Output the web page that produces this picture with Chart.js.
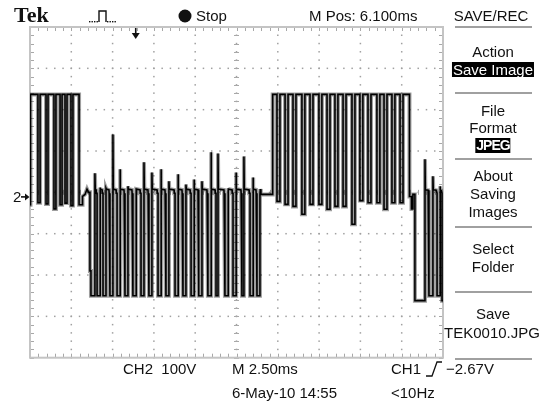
<!DOCTYPE html>
<html><head><meta charset="utf-8">
<script src="https://cdn.jsdelivr.net/npm/chart.js@4"></script>
<style>
html,body{margin:0;padding:0;background:#fff;width:547px;height:403px;overflow:hidden}
#wrap{position:relative;width:547px;height:403px}
#c{position:absolute;left:0;top:0}
.t{position:absolute;font-family:"Liberation Sans",Arial,sans-serif;font-size:15px;color:#111;white-space:pre;line-height:17px}
.c{transform:translateX(-50%)}
.inv{background:#000;color:#fff;line-height:15px;padding:0 1px}
</style></head>
<body><div id="wrap"><canvas id="c" width="547" height="403"></canvas>
<div class="t" style="left:14px;top:3px;font-family:'Liberation Serif',serif;font-weight:bold;font-size:22px;line-height:24px">Tek</div>
<div class="t" style="left:196px;top:7px">Stop</div>
<div class="t" style="left:309px;top:7px">M Pos: 6.100ms</div>
<div class="t c" style="left:491px;top:7px">SAVE/REC</div>
<div class="t" style="left:13px;top:188px">2</div>
<div class="t c" style="left:493px;top:43px">Action</div>
<div class="t c inv" style="left:493px;top:62px">Save Image</div>
<div class="t c" style="left:493px;top:102px">File</div>
<div class="t c" style="left:493px;top:119px">Format</div>
<div class="t c inv" style="left:493px;top:138px;font-weight:bold;font-size:14px;letter-spacing:-1px">JPEG</div>
<div class="t c" style="left:493px;top:167px">About</div>
<div class="t c" style="left:493px;top:185px">Saving</div>
<div class="t c" style="left:493px;top:203px">Images</div>
<div class="t c" style="left:493px;top:240px">Select</div>
<div class="t c" style="left:493px;top:258px">Folder</div>
<div class="t c" style="left:493px;top:305px">Save</div>
<div class="t c" style="left:492px;top:324px">TEK0010.JPG</div>
<div class="t" style="left:123px;top:360px">CH2  100V</div>
<div class="t" style="left:232px;top:360px">M 2.50ms</div>
<div class="t" style="left:391px;top:360px">CH1</div>
<div class="t" style="left:446px;top:360px">−2.67V</div>
<div class="t" style="left:232px;top:384px">6-May-10 14:55</div>
<div class="t" style="left:391px;top:384px">&lt;10Hz</div>
</div>
<script>
// ---- graticule divisions (M 2.50ms/div, CH2 100V/div) ----
const timeDivs = [0, 2.5, 5, 7.5, 10, 12.5, 15, 17.5, 20, 22.5, 25];   // ms
const voltDivs = [-400, -300, -200, -100, 0, 100, 200, 300, 400];     // V
const HIGH = 237, LOW = -250;

// Burst A: signal held high with short dips
const burstA_dipStart = [0.48, 0.97, 1.45, 1.82, 2.12, 2.48];
const burstA_dipEnd   = [0.61, 1.09, 1.57, 1.94, 2.24, 2.60];
const burstA_dipLow   = [-25, -28, -40, -30, -26, -32];
const burstA_fall = 2.97;

// gap between A and B
const gapAB_t = [2.97, 3.16, 3.18, 3.33, 3.45, 3.54, 3.63];
const gapAB_v = [-30, -30, -10, -5, 8, 0, 0];

// Burst B: pulses down to LOW, overshoot spike on each rising edge
const burstB_start = [3.63,4.06,4.42,4.84,5.27,5.75,6.23,6.72,7.20,7.75,8.23,8.78,9.26,9.75,10.23,10.77,11.26,11.80,12.29,12.83,13.32,13.74];
const burstB_end   = [3.93,4.24,4.60,5.02,5.45,5.93,6.42,6.90,7.38,7.93,8.41,8.96,9.44,9.93,10.41,10.96,11.38,11.99,12.47,12.95,13.50,13.92];
const burstB_spike = [46,12,10,140,56,15,7,73,48,56,27,44,19,31,27,97,94,10,48,87,36,-5];
const burstB_firstStep = -190;

// Burst C: high with dips
const burstC_rise = 14.69;
const burstC_dipStart = [14.95,15.44,15.92,16.46,16.95,17.49,17.98,18.46,18.95,19.49,19.97,20.46,21.00,21.43,21.91,22.40];
const burstC_dipEnd   = [15.13,15.62,16.10,16.64,17.13,17.67,18.16,18.64,19.13,19.67,20.15,20.64,21.18,21.61,22.09,22.58];
const burstC_dipLow   = [-22,-29,-34,-53,-29,-29,-41,-34,-34,-77,-20,-25,-25,-41,-25,-25];
const burstC_fall = 22.97;

// gap C -> D
const gapCD_t = [22.97, 23.09, 23.09, 23.18, 23.18];
const gapCD_v = [-10, -10, -40, -40, -5];

// Burst D
const burstD_start = [23.30, 24.15, 24.64, 24.94];
const burstD_end   = [23.91, 24.39, 24.82, 25.00];
const burstD_low   = [-262, -250, -250, -262];
const burstD_spike = [80, 39, 15, null];

// ---- build the trace ----
const pts = [];
const P = (x, y) => pts.push({x, y});
const last = () => pts[pts.length - 1].y;
P(0, -30); P(0.03, -30); P(0.03, HIGH);
burstA_dipStart.forEach((s, i) => { P(s, HIGH); P(s, burstA_dipLow[i]); P(burstA_dipEnd[i], burstA_dipLow[i]); P(burstA_dipEnd[i], HIGH); });
P(burstA_fall, HIGH);
gapAB_t.forEach((t, i) => P(t, gapAB_v[i]));
burstB_start.forEach((s, i) => {
  const e = burstB_end[i];
  if (i > 0) { P(s - 0.06, 6); P(s - 0.05, -2); P(s, -2); }
  if (i === 0) { P(s, burstB_firstStep); P(s + 0.06, burstB_firstStep); P(s + 0.06, LOW); }
  else P(s, LOW);
  P(e, LOW); P(e, burstB_spike[i]); P(e + 0.02, 8);
});
P(burstB_end[burstB_end.length - 1] + 0.05, -5);
P(burstC_rise, -5); P(burstC_rise, HIGH);
burstC_dipStart.forEach((s, i) => { P(s, HIGH); P(s, burstC_dipLow[i]); P(burstC_dipEnd[i], burstC_dipLow[i]); P(burstC_dipEnd[i], HIGH); });
P(burstC_fall, HIGH);
gapCD_t.forEach((t, i) => P(t, gapCD_v[i]));
burstD_start.forEach((s, i) => {
  const e = burstD_end[i];
  if (i > 0) { P(s - 0.05, 5); P(s, -2); } else { P(s, last()); }
  P(s, burstD_low[i]); P(e, burstD_low[i]);
  if (burstD_spike[i] !== null) { P(e, burstD_spike[i]); P(e + 0.02, 6); }
});

// ---- graticule + screen decorations ----
const scope = {
  id: 'scope',
  beforeDatasetsDraw(chart) {
    const ctx = chart.ctx, x = chart.scales.x, y = chart.scales.y, a = chart.chartArea;
    const xMinor = [], yMinor = [];
    for (let i = 0; i < timeDivs.length - 1; i++) for (let k = 0; k < 5; k++) xMinor.push(timeDivs[i] + (timeDivs[i+1]-timeDivs[i]) * k / 5);
    xMinor.push(timeDivs[timeDivs.length-1]);
    for (let i = 0; i < voltDivs.length - 1; i++) for (let k = 0; k < 5; k++) yMinor.push(voltDivs[i] + (voltDivs[i+1]-voltDivs[i]) * k / 5);
    yMinor.push(voltDivs[voltDivs.length-1]);
    ctx.save();
    ctx.fillStyle = '#a0a0a0';
    timeDivs.slice(1, -1).forEach(t => { const px = x.getPixelForValue(t); yMinor.forEach(v => ctx.fillRect(px - 0.75, y.getPixelForValue(v) - 0.75, 1.5, 1.5)); });
    voltDivs.slice(1, -1).forEach(v => { const py = y.getPixelForValue(v); xMinor.forEach(t => ctx.fillRect(x.getPixelForValue(t) - 0.75, py - 0.75, 1.5, 1.5)); });
    ctx.strokeStyle = '#a8a8a8'; ctx.lineWidth = 1;
    const cx = x.getPixelForValue(12.5), cy = y.getPixelForValue(0);
    ctx.beginPath();
    yMinor.forEach(v => { const py = Math.round(y.getPixelForValue(v)) + 0.5; ctx.moveTo(cx - 2.5, py); ctx.lineTo(cx + 2.5, py); });
    xMinor.forEach(t => { const px = Math.round(x.getPixelForValue(t)) + 0.5; ctx.moveTo(px, cy - 2.5); ctx.lineTo(px, cy + 2.5); });
    yMinor.forEach(v => { const py = Math.round(y.getPixelForValue(v)) + 0.5; ctx.moveTo(a.left, py); ctx.lineTo(a.left + 4, py); ctx.moveTo(a.right, py); ctx.lineTo(a.right - 4, py); });
    xMinor.forEach(t => { const px = Math.round(x.getPixelForValue(t)) + 0.5; ctx.moveTo(px, a.top); ctx.lineTo(px, a.top + 4); ctx.moveTo(px, a.bottom); ctx.lineTo(px, a.bottom - 4); });
    ctx.stroke();
    ctx.strokeStyle = '#c4c4c4'; ctx.lineWidth = 2;
    ctx.strokeRect(a.left, a.top, a.right - a.left, a.bottom - a.top);
    ctx.restore();
  },
  afterDraw(chart) {
    const ctx = chart.ctx, x = chart.scales.x, y = chart.scales.y, a = chart.chartArea;
    ctx.save();
    ctx.fillStyle = '#111'; ctx.strokeStyle = '#111';
    ctx.beginPath(); ctx.arc(185, 16, 6.5, 0, Math.PI * 2); ctx.fill();
    ctx.lineWidth = 1.4;
    ctx.beginPath(); ctx.moveTo(99, 22); ctx.lineTo(99, 11); ctx.lineTo(106, 11); ctx.lineTo(106, 22); ctx.stroke();
    for (let px = 89; px < 99; px += 2.5) ctx.fillRect(px, 21, 1.4, 1.4);
    for (let px = 107; px < 117; px += 2.5) ctx.fillRect(px, 21, 1.4, 1.4);
    const tp = x.getPixelForValue(12.5 - 6.1);
    ctx.lineWidth = 1.6;
    ctx.beginPath(); ctx.moveTo(tp, a.top + 1); ctx.lineTo(tp, a.top + 9); ctx.stroke();
    ctx.beginPath(); ctx.moveTo(tp - 4, a.top + 6); ctx.lineTo(tp + 4, a.top + 6); ctx.lineTo(tp, a.top + 12); ctx.closePath(); ctx.fill();
    const gy = y.getPixelForValue(-11);
    ctx.beginPath(); ctx.moveTo(21, gy); ctx.lineTo(26, gy); ctx.stroke();
    ctx.beginPath(); ctx.moveTo(25, gy - 3.5); ctx.lineTo(29.5, gy); ctx.lineTo(25, gy + 3.5); ctx.closePath(); ctx.fill();
    ctx.lineWidth = 1.3;
    ctx.beginPath(); ctx.moveTo(426, 376); ctx.lineTo(432, 376); ctx.lineTo(437, 362); ctx.lineTo(442, 362); ctx.stroke();
    ctx.strokeStyle = '#a0a0a0'; ctx.lineWidth = 2;
    [27, 93, 159, 227, 292, 359].forEach(sy => { ctx.beginPath(); ctx.moveTo(455, sy); ctx.lineTo(532, sy); ctx.stroke(); });
    ctx.restore();
  }
};

new Chart(document.getElementById('c'), {
  type: 'line',
  data: { datasets: [
    { data: pts, borderColor: '#000', borderWidth: 1.6, pointRadius: 0, tension: 0, fill: false, order: 0 },
    { data: pts, borderColor: 'rgba(0,0,0,0.38)', borderWidth: 4, pointRadius: 0, tension: 0, fill: false, order: 1 }
  ] },
  options: {
    responsive: false, animation: false, events: [],
    layout: { padding: { left: 30, right: 104, top: 27, bottom: 45.3 } },
    plugins: { legend: { display: false }, tooltip: { enabled: false } },
    scales: {
      x: { type: 'linear', min: 0, max: 25, display: false },
      y: { type: 'linear', min: -400, max: 400, display: false }
    }
  },
  plugins: [scope]
});
</script>
</body></html>
